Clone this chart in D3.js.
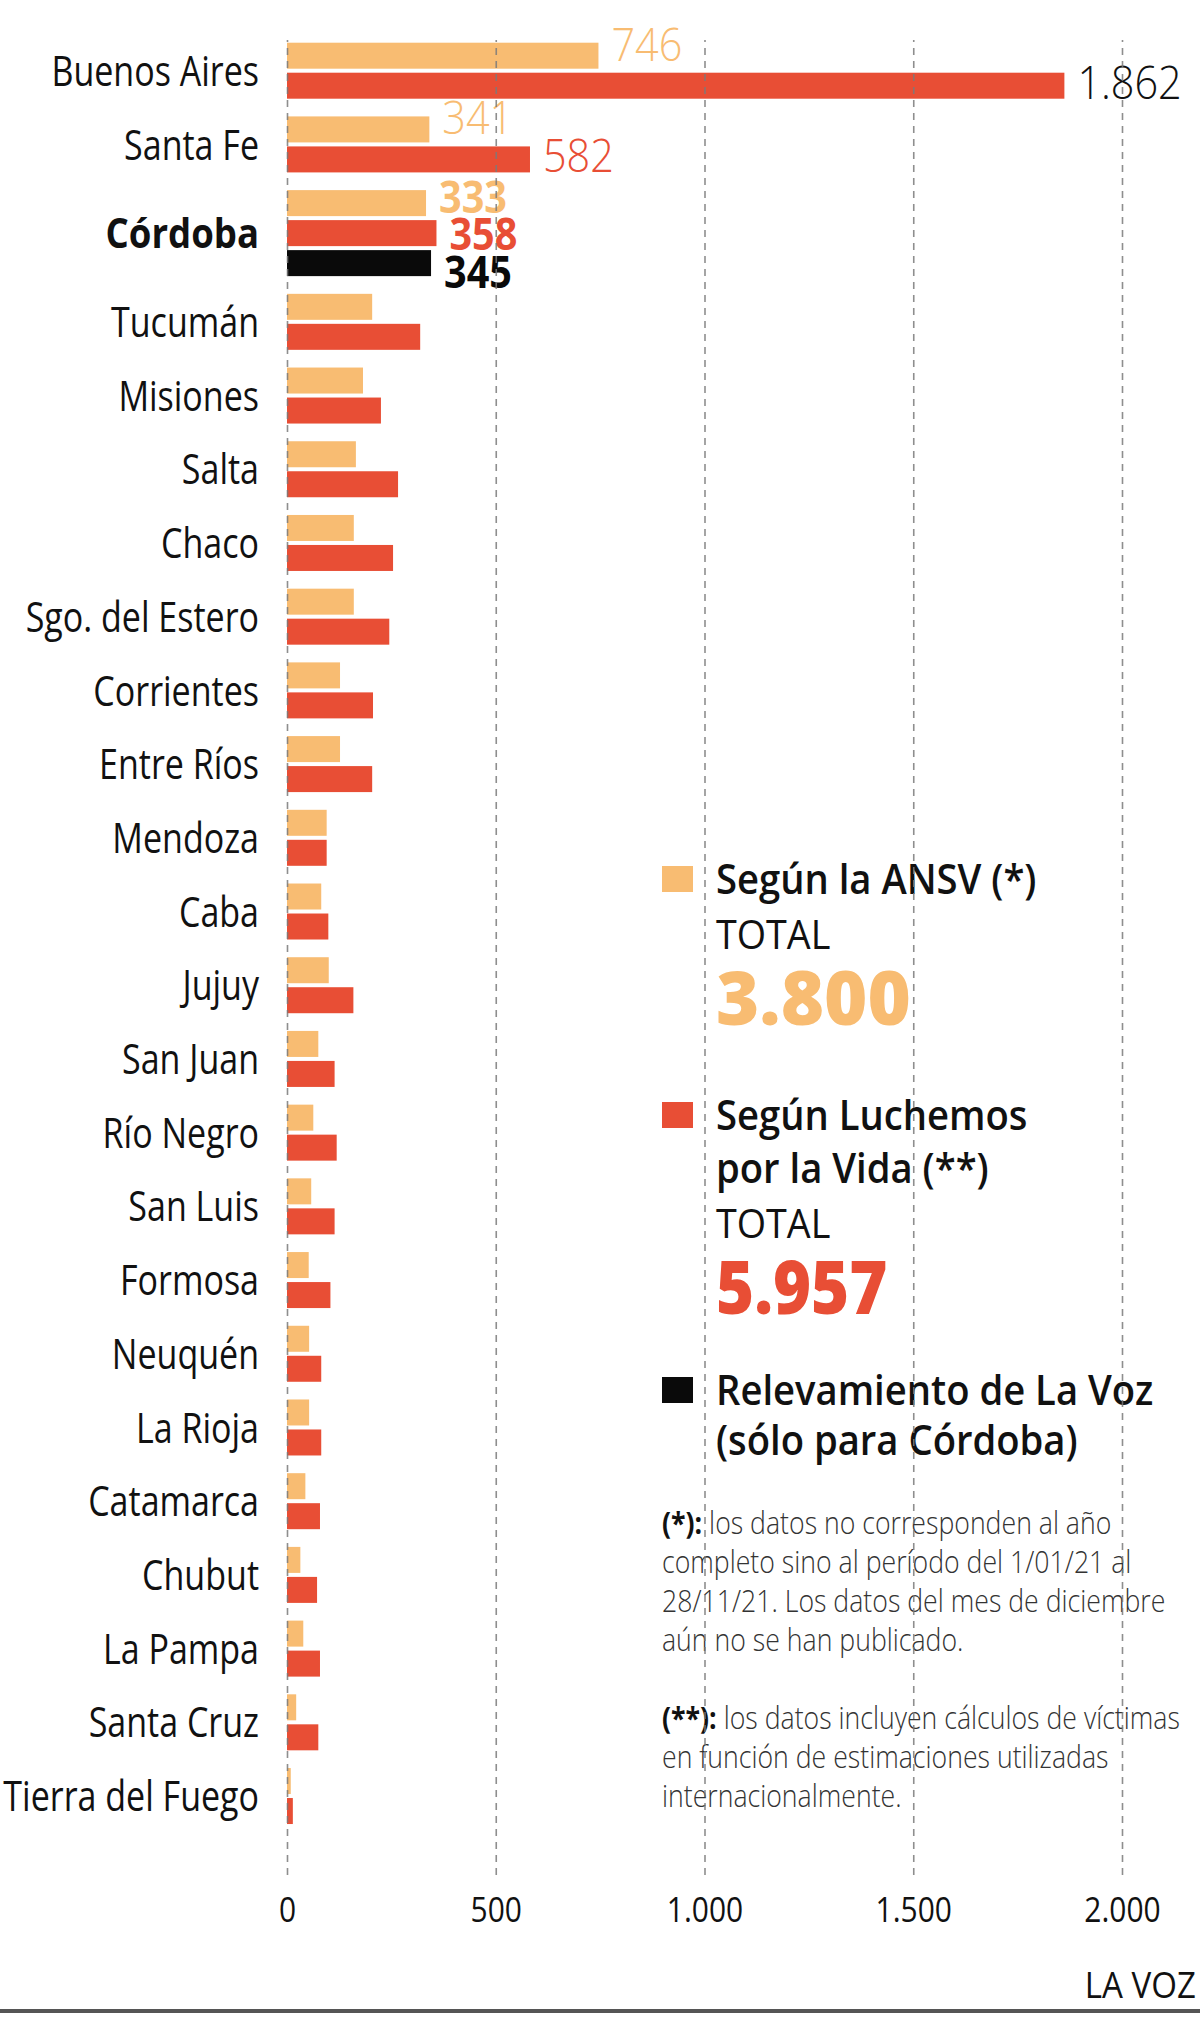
<!DOCTYPE html>
<html>
<head>
<meta charset="utf-8">
<script src="https://cdn.jsdelivr.net/npm/d3@7"></script>
<style>
  body { margin: 0; background: #fff; }
  svg text { font-family: "Open Sans", sans-serif; }
</style>
</head>
<body>
<script>
// provinces, top to bottom
const provinces = ["Buenos Aires", "Santa Fe", "Córdoba", "Tucumán", "Misiones", "Salta", "Chaco",
  "Sgo. del Estero", "Corrientes", "Entre Ríos", "Mendoza", "Caba", "Jujuy", "San Juan", "Río Negro",
  "San Luis", "Formosa", "Neuquén", "La Rioja", "Catamarca", "Chubut", "La Pampa", "Santa Cruz",
  "Tierra del Fuego"];

// Según la ANSV
const ansv = [746, 341, 333, 204, 182, 165, 160, 160, 127, 127, 95, 82, 100, 75, 63, 58, 52, 53, 53, 44,
  32, 39, 22, 9];

// Según Luchemos por la Vida
const luchemos = [1862, 582, 358, 319, 225, 266, 254, 245, 206, 204, 95, 99, 159, 114, 119, 114, 104, 82,
  82, 79, 72, 79, 75, 14];

// Relevamiento de La Voz (sólo Córdoba)
const laVoz = { "Córdoba": 345 };

// provinces with numbers written next to the bars
const labelled = ["Buenos Aires", "Santa Fe", "Córdoba"];
const highlight = "Córdoba";

const xTicks = [0, 500, 1000, 1500, 2000];

const totalAnsv = "3.800";
const totalLuchemos = "5.957";

const colors = { ansv: "#F8BC72", luch: "#E84E35", voz: "#0a0a0a" };
const SX = 0.8; // horizontal squeeze, fakes a condensed face

const W = 1200, H = 2028;
const locale = d3.formatLocale({ decimal: ",", thousands: ".", grouping: [3], currency: ["$", ""] });
const fmt = locale.format(",");

const svg = d3.select("body").append("svg")
  .attr("width", W)
  .attr("height", H);

// x scale
const x = d3.scaleLinear()
  .domain([0, 2000])
  .range([287, 1122]);

// build groups of bars
const groups = provinces.map((p, i) => {
  const bars = [{ s: "ansv", v: ansv[i] }, { s: "luch", v: luchemos[i] }];
  if (laVoz[p] != null) bars.push({ s: "voz", v: laVoz[p] });
  return { name: p, bars: bars };
});

// vertical positions in "slot" units, one slot per bar plus a gap after each group
const pad = 0.457;
let acc = 0;
groups.forEach(g => {
  g.start = acc;
  acc += g.bars.length + pad;
});
const slotPx = 30;
const y = d3.scaleLinear()
  .domain([0, acc])
  .range([42.7, 42.7 + acc * slotPx]);
const barH = 26;

const plot = svg.append("g");

const gs = plot.selectAll("g.grp")
  .data(groups)
  .join("g")
  .attr("class", "grp");

gs.selectAll("rect")
  .data(g => g.bars.map((b, j) => Object.assign({ u: g.start + j, name: g.name }, b)))
  .join("rect")
  .attr("x", x(0))
  .attr("y", d => y(d.u))
  .attr("width", d => x(d.v) - x(0))
  .attr("height", barH)
  .attr("fill", d => colors[d.s]);

// province names
gs.append("text")
  .attr("transform", g => {
    const cy = (y(g.start) + y(g.start + g.bars.length) - (slotPx - barH)) / 2;
    const sx = g.name === highlight ? 0.87 : 0.81;
    return `translate(259,${cy}) scale(${sx},1)`;
  })
  .attr("dy", "0.36em")
  .attr("text-anchor", "end")
  .attr("font-size", 42)
  .attr("font-weight", g => g.name === highlight ? 700 : 400)
  .attr("fill", "#111")
  .text(g => g.name);

// value labels
const shiftNormal = { ansv: -8, luch: 0 };
const shiftHi = { ansv: -3, luch: 4, voz: 12 };
gs.filter(g => labelled.includes(g.name))
  .selectAll("text.val")
  .data(g => g.bars.map((b, j) => Object.assign({ u: g.start + j, name: g.name }, b)))
  .join("text")
  .attr("class", "val")
  .attr("transform", d => {
    const hi = d.name === highlight;
    const base = y(d.u) + barH + (hi ? shiftHi[d.s] : shiftNormal[d.s]);
    return `translate(${x(d.v) + 13},${base}) scale(0.9,1)`;
  })
  .attr("font-size", d => d.name === highlight ? 44 : 46)
  .attr("font-weight", d => d.name === highlight ? 700 : 300)
  .attr("fill", d => d.v > 1500 ? "#111" : colors[d.s])
  .text(d => fmt(d.v));

// legend
const legend = svg.append("g");
const lx = 662, tx = 716;
function line(txt, yy, size, weight, color, sx) {
  legend.append("text")
    .attr("transform", `translate(${tx},${yy}) scale(${sx},1)`)
    .attr("dy", "0.36em")
    .attr("font-size", size)
    .attr("font-weight", weight)
    .attr("fill", color)
    .text(txt);
}
function swatch(yy, c) {
  legend.append("rect")
    .attr("x", lx).attr("y", yy - 13)
    .attr("width", 31).attr("height", barH)
    .attr("fill", c);
}
swatch(879, colors.ansv);
line("Según la ANSV (*)", 879, 42, 600, "#111", 0.91);
line("TOTAL", 934, 41, 400, "#111", 0.92);
line(totalAnsv, 998, 74, 800, colors.ansv, 1);

swatch(1115, colors.luch);
line("Según Luchemos", 1115, 42, 600, "#111", 0.91);
line("por la Vida (**)", 1168, 42, 600, "#111", 0.91);
line("TOTAL", 1223, 41, 400, "#111", 0.92);
line(totalLuchemos, 1287, 74, 800, colors.luch, 0.88);

swatch(1390, colors.voz);
line("Relevamiento de La Voz", 1390, 42, 600, "#111", 0.91);
line("(sólo para Córdoba)", 1440, 42, 600, "#111", 0.91);

// footnotes
const notes = [
  [["(*):", true], [" los datos no corresponden al año", false]],
  [["completo sino al período del 1/01/21 al", false]],
  [["28/11/21. Los datos del mes de diciembre", false]],
  [["aún no se han publicado.", false]],
  null,
  [["(**):", true], [" los datos incluyen cálculos de víctimas", false]],
  [["en función de estimaciones utilizadas", false]],
  [["internacionalmente.", false]]
];
notes.forEach((n, i) => {
  if (!n) return;
  const t = legend.append("text")
    .attr("transform", `translate(${lx},${1523 + i * 39}) scale(0.86,1)`)
    .attr("dy", "0.36em")
    .attr("font-size", 31)
    .attr("font-weight", 300)
    .attr("fill", "#333");
  n.forEach(p => t.append("tspan")
    .attr("font-weight", p[1] ? 700 : 300)
    .attr("fill", p[1] ? "#111" : "#333")
    .text(p[0]));
});

// dashed grid, on top of everything
const gridTop = 40, gridBottom = 1875;
svg.append("g")
  .attr("transform", `translate(0,${gridBottom})`)
  .call(d3.axisTop(x).tickValues(xTicks).tickSize(gridBottom - gridTop).tickFormat(""))
  .call(g => g.select(".domain").remove())
  .call(g => g.selectAll("line")
    .attr("stroke", "#7a7a7a")
    .attr("stroke-width", 1.6)
    .attr("stroke-dasharray", "7,6")
    .attr("opacity", 0.85));

// x axis labels
svg.append("g")
  .attr("transform", "translate(0,1910)")
  .call(d3.axisBottom(x).tickValues(xTicks).tickSize(0).tickFormat(fmt))
  .call(g => g.select(".domain").remove())
  .call(g => g.selectAll("text")
    .attr("y", 0)
    .attr("dy", "0.36em")
    .attr("font-size", 34)
    .attr("font-weight", 500)
    .attr("font-family", "Open Sans, sans-serif")
    .attr("fill", "#111")
    .attr("transform", "scale(0.88,1)"));

// credit and bottom rule
svg.append("text")
  .attr("transform", "translate(1196,1985) scale(0.92,1)")
  .attr("text-anchor", "end")
  .attr("dy", "0.36em")
  .attr("font-size", 36)
  .attr("fill", "#111")
  .text("LA VOZ");

svg.append("rect")
  .attr("x", 0).attr("y", 2009)
  .attr("width", W).attr("height", 4)
  .attr("fill", "#555");
</script>
</body>
</html>
